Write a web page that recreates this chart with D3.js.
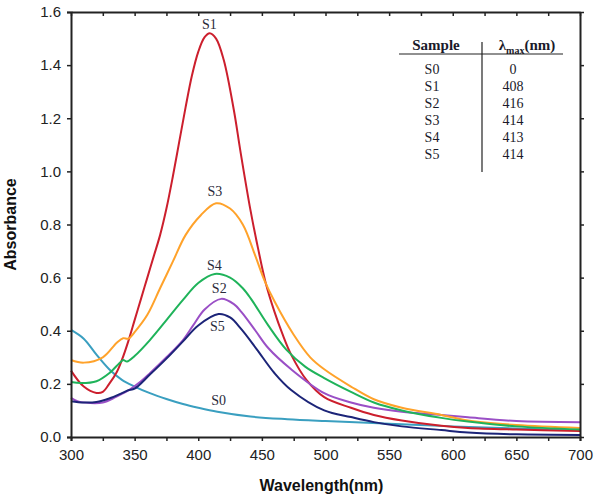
<!DOCTYPE html>
<html lang="en">
<head>
<meta charset="UTF-8">
<title>Absorbance spectra</title>
<script src="https://d3js.org/d3.v7.min.js"></script>
<style>
  body { margin: 0; background: #fff; }
  svg { display: block; }
</style>
</head>
<body>
<svg id="chart" width="600" height="500"></svg>
<script>
// wavelength (nm) / absorbance pairs
var s0 = [[300,0.403],[310,0.37],[320,0.31],[330,0.255],[340,0.215],[350,0.19],[362,0.165],[375,0.143],[388,0.124],[400,0.11],[415,0.095],[441,0.077],[470,0.067],[500,0.06],[550,0.05],[600,0.04],[650,0.032],[700,0.025]];
var s1 = [[300,0.25],[310,0.19],[320,0.166],[325,0.17],[330,0.2],[336,0.245],[340,0.29],[345,0.36],[350,0.44],[355,0.52],[360,0.6],[365,0.68],[370,0.76],[375,0.86],[380,0.98],[385,1.11],[390,1.24],[395,1.36],[400,1.45],[405,1.505],[409,1.52],[414,1.5],[420,1.42],[428,1.23],[433,1.08],[441,0.855],[447,0.71],[453,0.58],[460,0.47],[466,0.39],[473,0.31],[485,0.215],[499,0.15],[520,0.11],[538,0.083],[560,0.062],[591,0.042],[612,0.034],[650,0.028],[700,0.023]];
var s2 = [[300,0.147],[305,0.135],[315,0.128],[325,0.13],[335,0.15],[345,0.175],[355,0.21],[362,0.24],[375,0.3],[388,0.365],[396,0.42],[405,0.48],[418,0.52],[428,0.5],[434,0.47],[445,0.4],[455,0.335],[473,0.255],[499,0.165],[520,0.13],[538,0.11],[560,0.095],[591,0.083],[612,0.074],[650,0.06],[700,0.056]];
var s3 = [[300,0.29],[310,0.28],[325,0.3],[336,0.355],[341,0.372],[345,0.37],[350,0.395],[360,0.46],[370,0.56],[380,0.66],[390,0.76],[402,0.835],[414,0.88],[425,0.86],[435,0.8],[445,0.68],[452,0.59],[460,0.51],[475,0.385],[488,0.3],[499,0.255],[520,0.19],[538,0.142],[560,0.11],[591,0.083],[612,0.062],[650,0.045],[700,0.034]];
var s4 = [[300,0.207],[308,0.203],[320,0.21],[330,0.24],[338,0.278],[341,0.29],[344,0.284],[350,0.305],[362,0.365],[375,0.44],[388,0.516],[400,0.58],[413,0.614],[425,0.6],[435,0.56],[442,0.516],[455,0.42],[469,0.33],[484,0.265],[499,0.222],[520,0.17],[538,0.13],[560,0.1],[591,0.072],[612,0.058],[650,0.04],[700,0.028]];
var s5 = [[300,0.135],[310,0.13],[320,0.132],[330,0.145],[340,0.165],[345,0.176],[350,0.182],[362,0.235],[375,0.295],[388,0.36],[400,0.42],[416,0.463],[425,0.45],[434,0.405],[446,0.33],[460,0.24],[473,0.177],[499,0.1],[520,0.075],[538,0.056],[560,0.04],[591,0.026],[612,0.017],[650,0.01],[700,0.008]];

var seriesNames = ["S0", "S1", "S2", "S3", "S4", "S5"];
var seriesColors = ["#3a9fc0", "#cc1f2d", "#9a4fc6", "#ffa22a", "#1fb35a", "#1c2478"];
// where each curve's name sits, in data units (wavelength, absorbance)
var labelPos = [[416,0.132],[408.7,1.547],[416.5,0.553],[413,0.919],[412.6,0.64],[415,0.41]];

var lambdaMax = ["0", "408", "416", "414", "413", "414"];
var xTicks = [300, 350, 400, 450, 500, 550, 600, 650, 700];
var yTicks = [0, 0.2, 0.4, 0.6, 0.8, 1.0, 1.2, 1.4, 1.6];

var allSeries = [s0, s1, s2, s3, s4, s5];

var margin = { top: 12, left: 71, right: 20, bottom: 63 },
    width = 600 - margin.left - margin.right,
    height = 500 - margin.top - margin.bottom;

var svg = d3.select("#chart")
    .append("g")
    .attr("transform", "translate(" + margin.left + "," + margin.top + ")");

var x = d3.scaleLinear().domain([300, 700]).range([0, width]);
var y = d3.scaleLinear().domain([0, 1.6]).range([height, 0]);

var minorX = d3.range(300, 701, 25);

// curves
var line = d3.line()
    .x(function (d) { return x(d[0]); })
    .y(function (d) { return y(d[1]); })
    .curve(d3.curveCatmullRom.alpha(0.5));

svg.selectAll("path.curve")
    .data(allSeries)
    .enter()
    .append("path")
    .attr("class", "curve")
    .attr("d", line)
    .attr("fill", "none")
    .attr("stroke", function (d, i) { return seriesColors[i]; })
    .attr("stroke-width", 2);

// bottom axis
var xAxis = svg.append("g")
    .attr("transform", "translate(0," + height + ")")
    .call(d3.axisBottom(x).tickValues(minorX).tickSize(4).tickPadding(8)
        .tickFormat(function (d) { return xTicks.indexOf(d) >= 0 ? d : ""; }));

// left axis
var yAxis = svg.append("g")
    .call(d3.axisLeft(y).tickValues(yTicks).tickSize(4).tickPadding(6)
        .tickFormat(d3.format(".1f")));

// top frame
var topAxis = svg.append("g")
    .call(d3.axisBottom(x).tickValues(minorX).tickSize(4).tickSizeOuter(0).tickFormat(""));

// right frame
var rightAxis = svg.append("g")
    .attr("transform", "translate(" + width + ",0)")
    .call(d3.axisRight(y).tickValues(yTicks).tickSize(4).tickSizeOuter(0).tickFormat(""));

[xAxis, yAxis, topAxis, rightAxis].forEach(function (g) {
    g.select(".domain").attr("stroke", "#222").attr("stroke-width", 2);
    g.selectAll(".tick line").attr("stroke", "#222").attr("stroke-width", 1.5);
    g.selectAll(".tick text")
        .attr("fill", "#222")
        .style("font-family", "Liberation Sans, Arial, sans-serif")
        .style("font-size", "15px");
});

// axis titles
svg.append("text")
    .attr("x", width / 2 - 4)
    .attr("y", height + 54)
    .attr("text-anchor", "middle")
    .style("font-family", "Liberation Sans, Arial, sans-serif")
    .style("font-size", "16px")
    .style("font-weight", "bold")
    .attr("fill", "#111")
    .text("Wavelength(nm)");

svg.append("text")
    .attr("transform", "translate(" + (-55) + "," + (height / 2) + ") rotate(-90)")
    .attr("text-anchor", "middle")
    .style("font-family", "Liberation Sans, Arial, sans-serif")
    .style("font-size", "16px")
    .style("font-weight", "bold")
    .attr("fill", "#111")
    .text("Absorbance");

// curve labels
svg.selectAll("text.curveLabel")
    .data(seriesNames)
    .enter()
    .append("text")
    .attr("class", "curveLabel")
    .attr("x", function (d, i) { return x(labelPos[i][0]); })
    .attr("y", function (d, i) { return y(labelPos[i][1]); })
    .attr("text-anchor", "middle")
    .attr("dominant-baseline", "middle")
    .style("font-family", "Liberation Serif, Times New Roman, serif")
    .style("font-size", "14px")
    .attr("fill", "#2a2a3a")
    .text(function (d) { return d; });

// inset table
var table = d3.select("#chart").append("g");
var serif = "Liberation Serif, Times New Roman, serif";

table.append("text")
    .attr("x", 436).attr("y", 50)
    .attr("text-anchor", "middle")
    .style("font-family", serif).style("font-size", "15px").style("font-weight", "bold")
    .attr("fill", "#1a1a2a")
    .text("Sample");

var hdr = table.append("text")
    .attr("x", 527).attr("y", 50)
    .attr("text-anchor", "middle")
    .style("font-family", serif).style("font-size", "15px").style("font-weight", "bold")
    .attr("fill", "#1a1a2a");
hdr.append("tspan").text("λ");
hdr.append("tspan").attr("dy", 4).style("font-size", "10px").text("max");
hdr.append("tspan").attr("dy", -4).text("(nm)");

table.append("line")
    .attr("x1", 399).attr("x2", 563).attr("y1", 54).attr("y2", 54)
    .attr("stroke", "#222").attr("stroke-width", 1.2);
table.append("line")
    .attr("x1", 482).attr("x2", 482).attr("y1", 42).attr("y2", 172)
    .attr("stroke", "#222").attr("stroke-width", 1.2);

var rows = table.selectAll("g.row")
    .data(seriesNames)
    .enter()
    .append("g")
    .attr("class", "row")
    .attr("transform", function (d, i) { return "translate(0," + (71 + i * 17) + ")"; });

rows.append("text")
    .attr("x", 432)
    .attr("text-anchor", "middle")
    .attr("dominant-baseline", "middle")
    .style("font-family", serif).style("font-size", "14px")
    .attr("fill", "#1a1a2a")
    .text(function (d) { return d; });

rows.append("text")
    .attr("x", 513)
    .attr("text-anchor", "middle")
    .attr("dominant-baseline", "middle")
    .style("font-family", serif).style("font-size", "14px")
    .attr("fill", "#1a1a2a")
    .text(function (d, i) { return lambdaMax[i]; });
</script>
</body>
</html>
